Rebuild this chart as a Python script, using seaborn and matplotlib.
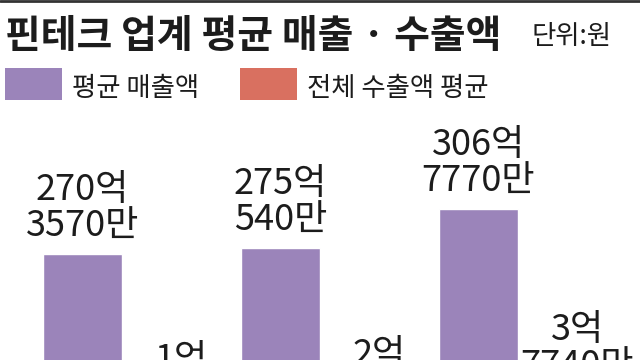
import matplotlib
matplotlib.use("Agg")
import matplotlib.pyplot as plt
from matplotlib.patches import Rectangle
from matplotlib.lines import Line2D
import pandas as pd
import seaborn as sns

# ---- data (values in 만원) ----
groups = ["G1", "G2", "G3"]              # category names are cropped out of the reference
series = ["평균 매출액", "전체 수출액 평균"]
sales = [2703570, 2750540, 3067770]       # 평균 매출액
exports = [17010, 20470, 37740]           # 전체 수출액 평균 (second lines estimated)
colors = ["#9b84ba", "#d97060"]

title = "핀테크 업계 평균 매출 · 수출액"
unit = "단위:원"

df = pd.DataFrame({
    "group": groups * 2,
    "series": [series[0]] * len(groups) + [series[1]] * len(groups),
    "value": sales + exports,
})

sns.set_theme(style="white")
plt.rcParams["font.family"] = ["Noto Sans CJK KR", "DejaVu Sans"]
TXT = "#1c1c1c"

fig = plt.figure(figsize=(6.4, 3.6), dpi=100)
fig.patch.set_facecolor("white")

W, H = 640, 360
ax = fig.add_axes([33 / W, 0, 594 / W, 250 / H])
ax2 = ax.twinx()

common = dict(x="group", y="value", hue="series", hue_order=series,
              palette=colors, width=1.0, gap=0.21, saturation=1,
              legend=False, order=groups, dodge=True)
sns.barplot(data=df[df.series == series[0]], ax=ax, **common)
sns.barplot(data=df[df.series == series[1]], ax=ax2, **common)

ax.set_xlim(-0.5, len(groups) - 0.5)
ax.set_ylim(1845000, 3869000)
ax2.set_ylim(61500, 236400)
for a in (ax, ax2):
    a.axis("off")


def fmt(v):
    eok, man = divmod(int(v), 10000)
    return f"{eok}억\n{man}만" if man else f"{eok}억"


def label(axis, vals):
    cont = [c for c in axis.containers if len(c.patches)][0]
    for rect, v in zip(cont.patches, vals):
        xc = rect.get_x() + rect.get_width() / 2
        axis.annotate(fmt(v), (xc, rect.get_y() + rect.get_height()),
                      xytext=(0, 9), textcoords="offset pixels",
                      ha="center", va="bottom", fontsize=26,
                      linespacing=1.03, color=TXT, annotation_clip=False,
                      zorder=10)


label(ax, sales)
label(ax2, exports)

# top rule
fig.add_artist(Line2D([0, 1], [1 - 1 / H, 1 - 1 / H], transform=fig.transFigure,
                      color="#333333", lw=2))

# title and unit
fig.text(5 / W, 1 - 48 / H, title, fontsize=28, fontweight="bold",
         color=TXT, ha="left", va="baseline")
fig.text(532 / W, 1 - 44 / H, unit, fontsize=19, color=TXT,
         ha="left", va="baseline")

# legend
legend_items = [(5, 72), (240, 307)]
for (sx, tx), name, c in zip(legend_items, series, colors):
    fig.add_artist(Rectangle((sx / W, 1 - 100 / H), 57 / W, 32 / H,
                             transform=fig.transFigure, facecolor=c,
                             edgecolor="none"))
    fig.text(tx / W, 1 - 96 / H, name, fontsize=19, color=TXT,
             ha="left", va="baseline")

fig.savefig("out.png", dpi=100)
